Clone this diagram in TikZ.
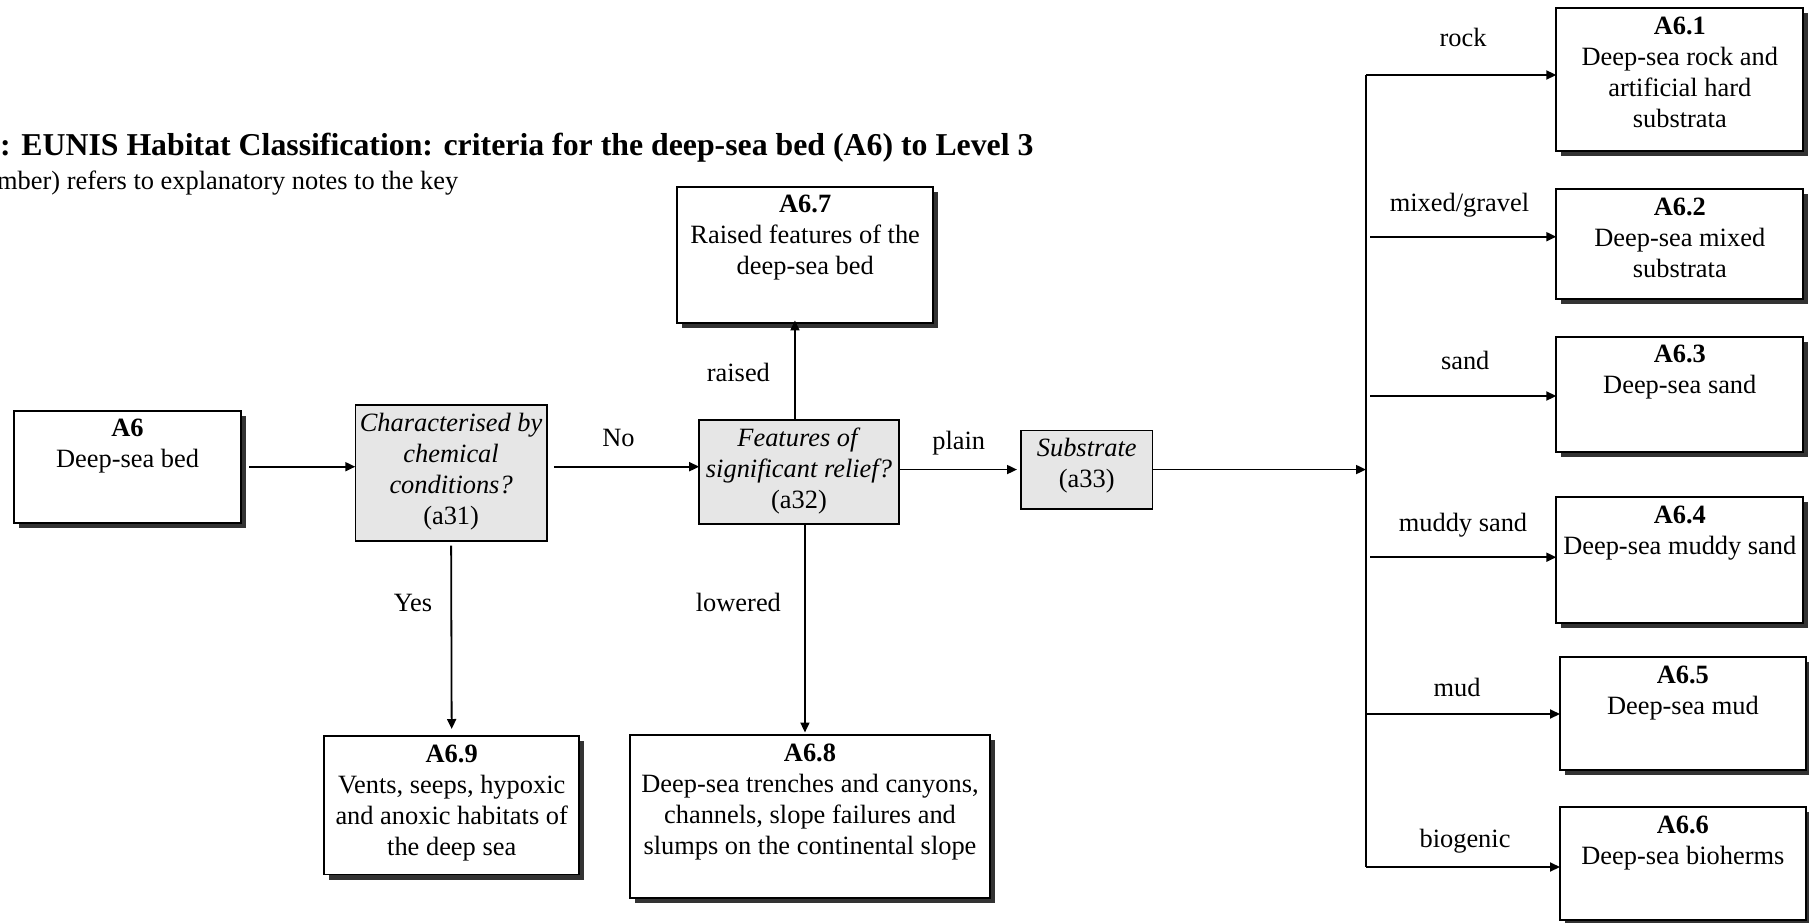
\documentclass[tikz,border=0pt]{standalone}
\usepackage{fontspec}
\setmainfont{Liberation Serif}
\usetikzlibrary{arrows.meta,shadows,calc}
\definecolor{qgray}{RGB}{230,230,230}
\definecolor{shade}{RGB}{51,51,51}
% fixed-size box body: width, height, centred lines starting at the top
\newcommand{\boxbody}[3]{\parbox[c][#2pt][t]{#1pt}{\centering\rule{0pt}{26pt}#3\par}}

\tikzset{
  every node/.style={font=\fontsize{26.4}{31}\selectfont},
  hab/.style={draw=black, line width=1.8pt, fill=white, inner sep=0pt, outer sep=0pt,
    anchor=north west,
    drop shadow={shadow xshift=5pt, shadow yshift=-5pt, fill=shade, opacity=1}},
  ques/.style={draw=black, line width=1.6pt, fill=qgray, inner sep=0pt, outer sep=0pt,
    anchor=north west},
  conn/.style={line width=1.8pt, -{Triangle[length=10pt,width=9pt]}},
  lbl/.style={anchor=base, inner sep=0pt},
}

\begin{document}
\begin{tikzpicture}[x=1pt,y=-1pt]
\useasboundingbox (0,0) rectangle (1809,923);

% heading
\node[anchor=base west, inner sep=0pt, font=\fontsize{31.8}{37}\selectfont\bfseries] (title) at (0,155)
  {: EUNIS Habitat Classification: criteria for the deep-sea bed (A6) to Level 3};
\node[anchor=base west, inner sep=0pt] (subtitle) at (-3,189)
  {mber) refers to explanatory notes to the key};

% main row
\node[hab] (a6) at (13.8,410.7) {\boxbody{227.5}{112}{\textbf{A6}\\Deep-sea bed}};
\node[ques] (a31) at (355.3,405) {\boxbody{191.6}{136}{\textit{Characterised by}\\\textit{chemical}\\\textit{conditions?}\\(a31)}};
\node[ques] (a32) at (699.2,420) {\boxbody{199.5}{104}{\textit{Features of}\\\textit{significant relief?}\\(a32)}};
\node[ques] (sub) at (1021,430.3) {\boxbody{131.5}{78.5}{\textit{Substrate}\\(a33)}};

% relief and chemistry outcomes
\node[hab] (a67) at (677.2,186.9) {\boxbody{256}{136}{\textbf{A6.7}\\Raised features of the\\deep-sea bed}};
\node[hab] (a69) at (324.2,736) {\boxbody{255}{138.5}{\textbf{A6.9}\\Vents, seeps, hypoxic\\and anoxic habitats of\\the deep sea}};
\node[hab] (a68) at (630,735) {\boxbody{360}{162.6}{\textbf{A6.8}\\Deep-sea trenches and canyons,\\channels, slope failures and\\slumps on the continental slope}};

% substrate outcomes
\node[hab] (a61) at (1556.3,8.1) {\boxbody{247}{143}{\textbf{A6.1}\\Deep-sea rock and\\artificial hard\\substrata}};
\node[hab] (a62) at (1556.3,189.2) {\boxbody{247}{109.6}{\textbf{A6.2}\\Deep-sea mixed\\substrata}};
\node[hab] (a63) at (1556.3,336.9) {\boxbody{247}{115.4}{\textbf{A6.3}\\Deep-sea sand}};
\node[hab] (a64) at (1556.3,497.3) {\boxbody{247}{125.7}{\textbf{A6.4}\\Deep-sea muddy sand}};
\node[hab] (a65) at (1560,657.3) {\boxbody{245.7}{112.7}{\textbf{A6.5}\\Deep-sea mud}};
\node[hab] (a66) at (1560,807.3) {\boxbody{245.7}{112.7}{\textbf{A6.6}\\Deep-sea bioherms}};

% main row connectors
\draw[conn] ([xshift=8pt]a6.east) -- (a6.east -| a31.west);
\draw[conn] ([xshift=7pt]a31.east |- a6.east) -- (a6.east -| a32.west);
\draw[conn] (a32.east |- sub.west) -- ([xshift=-4pt]sub.west);
\draw[conn, shorten <=4.6pt, shorten >=7pt] (a31.south) -- (a69.north);
\draw[conn, shorten >=-2.5pt] ([xshift=-4pt]a32.north) -- ([xshift=-4pt]a32.north |- a67.south);
\draw[conn, shorten >=2.5pt] ([xshift=6pt]a32.south) -- ([xshift=6pt]a32.south |- a68.north);

% substrate bus
\coordinate (btop) at (1366,75);
\coordinate (bbot) at (1366,867);
\coordinate (bmix) at (1370,236.7);
\coordinate (bsand) at (1370,396);
\coordinate (bmuddy) at (1370,557.2);
\coordinate (bmud) at (1366,714);
\draw[line width=2pt] (btop) -- (bbot);
\draw[conn] (sub.east) -- (sub.east -| btop);
\draw[conn] (btop) -- (btop -| a61.west);
\draw[conn] (bmix) -- (bmix -| a62.west);
\draw[conn] (bsand) -- (bsand -| a63.west);
\draw[conn] (bmuddy) -- (bmuddy -| a64.west);
\draw[conn] (bmud) -- (bmud -| a65.west);
\draw[conn] (bbot) -- (bbot -| a66.west);

% branch labels
\node[lbl] (lno) at (618.4,446) {No};
\node[lbl] (lyes) at (413,611) {Yes};
\node[lbl] (lraised) at (738.4,381) {raised};
\node[lbl] (llowered) at (738.4,611) {lowered};
\node[lbl] (lplain) at (958.7,449) {plain};
\node[lbl] (lrock) at (1463,46.5) {rock};
\node[lbl] (lmix) at (1459.4,211) {mixed/gravel};
\node[lbl] (lsand) at (1465.2,369.5) {sand};
\node[lbl] (lmuddy) at (1463,531) {muddy sand};
\node[lbl] (lmud) at (1457,696) {mud};
\node[lbl] (lbio) at (1465,847) {biogenic};
\end{tikzpicture}
\end{document}
